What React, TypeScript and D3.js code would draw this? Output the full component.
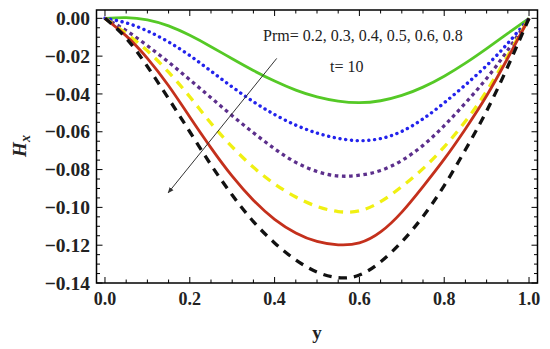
import { useRef, useEffect } from 'react'
import * as d3 from 'd3'

// y positions along the channel (x axis of the plot)
const yPoints = [0, 0.05, 0.1, 0.15, 0.2, 0.25, 0.3, 0.35, 0.4, 0.45, 0.5, 0.55, 0.6, 0.65, 0.7, 0.75, 0.8, 0.85, 0.9, 0.95, 1.0]

// H_x for each Prm value
const hxPrm02 = [0, 0.0004, -0.0008, -0.004, -0.009, -0.015, -0.0214, -0.0276, -0.0332, -0.038, -0.0416, -0.0438, -0.0446, -0.0436, -0.0408, -0.0364, -0.0306, -0.0237, -0.016, -0.008, 0]
const hxPrm03 = [0, -0.0024, -0.0067, -0.0125, -0.0197, -0.0279, -0.0363, -0.0441, -0.0509, -0.0565, -0.0607, -0.0635, -0.0647, -0.0636, -0.0598, -0.0532, -0.0447, -0.0352, -0.025, -0.0132, 0]
const hxPrm04 = [0, -0.0065, -0.0145, -0.0232, -0.0325, -0.042, -0.0515, -0.0605, -0.069, -0.0762, -0.081, -0.0834, -0.083, -0.0805, -0.0752, -0.0672, -0.0568, -0.0448, -0.0318, -0.0168, 0]
const hxPrm05 = [0, -0.008, -0.0172, -0.0285, -0.0415, -0.0555, -0.068, -0.0788, -0.0876, -0.0945, -0.0995, -0.1022, -0.1018, -0.097, -0.089, -0.0795, -0.068, -0.0545, -0.0385, -0.0197, 0]
const hxPrm06 = [0, -0.0093, -0.0212, -0.0357, -0.0522, -0.0685, -0.0835, -0.0962, -0.1063, -0.1135, -0.118, -0.1198, -0.1188, -0.113, -0.1025, -0.089, -0.0745, -0.0585, -0.041, -0.021, 0]
const hxPrm08 = [0, -0.0105, -0.0255, -0.0425, -0.06, -0.0775, -0.0935, -0.1075, -0.1188, -0.1278, -0.1342, -0.1372, -0.1358, -0.1288, -0.1182, -0.1048, -0.0885, -0.0695, -0.049, -0.0255, 0]

const xTickLabels = ['0.0', '0.2', '0.4', '0.6', '0.8', '1.0']
const yTickValues = [0, -0.02, -0.04, -0.06, -0.08, -0.1, -0.12, -0.14]

// arrow runs from (y, Hx) start to end, pointing toward increasing Prm
const arrowStart = [0.405, -0.0212]
const arrowEnd = [0.149, -0.0923]

const series = [
  { values: hxPrm02, color: '#55c926', width: 2.8, dash: null, cap: 'butt' },
  { values: hxPrm03, color: '#2323ec', width: 3.4, dash: '0.1 5.7', cap: 'round' },
  { values: hxPrm04, color: '#5c2f8c', width: 3.3, dash: '3.6 3.6', cap: 'butt' },
  { values: hxPrm05, color: '#f0f012', width: 3.3, dash: '9 7', cap: 'butt' },
  { values: hxPrm06, color: '#c4301c', width: 2.8, dash: null, cap: 'butt' },
  { values: hxPrm08, color: '#111111', width: 3.3, dash: '8.5 7', cap: 'butt' },
]

export default function App() {
  const svgRef = useRef<SVGSVGElement>(null)

  useEffect(() => {
    if (!svgRef.current) return
    const svg = d3.select(svgRef.current)
    svg.selectAll('*').remove()

    const left = 96.5
    const right = 537.5
    const top = 10
    const bottom = 283

    const x = d3.scaleLinear().domain([-0.02, 1.02]).range([left, right])
    const y = d3.scaleLinear().domain([-0.14, 0.0044]).range([bottom, top])

    const serif = '"Liberation Serif", "Times New Roman", serif'

    // curves
    const line = d3
      .line<number>()
      .x((_, i) => x(yPoints[i]))
      .y((d) => y(d))
      .curve(d3.curveNatural)

    series.forEach((s) => {
      svg
        .append('path')
        .datum(s.values)
        .attr('fill', 'none')
        .attr('stroke', s.color)
        .attr('stroke-width', s.width)
        .attr('stroke-linecap', s.cap)
        .attr('stroke-dasharray', s.dash)
        .attr('d', line)
    })

    // frame with inward ticks on all sides
    const frame = svg.append('g').attr('stroke', '#000')
    frame
      .append('rect')
      .attr('x', left)
      .attr('y', top)
      .attr('width', right - left)
      .attr('height', bottom - top)
      .attr('fill', 'none')
      .attr('stroke-width', 1.5)

    const xMinor = d3.range(0, 21).map((i) => i * 0.05)
    xMinor.forEach((v, i) => {
      const len = i % 4 === 0 ? 6 : 3.5
      frame.append('line').attr('x1', x(v)).attr('x2', x(v)).attr('y1', bottom).attr('y2', bottom - len).attr('stroke-width', 1)
      frame.append('line').attr('x1', x(v)).attr('x2', x(v)).attr('y1', top).attr('y2', top + len).attr('stroke-width', 1)
    })
    const yMinor = d3.range(0, 29).map((i) => -i * 0.005)
    yMinor.forEach((v, i) => {
      const len = i % 4 === 0 ? 6 : 3.5
      frame.append('line').attr('x1', left).attr('x2', left + len).attr('y1', y(v)).attr('y2', y(v)).attr('stroke-width', 1)
      frame.append('line').attr('x1', right).attr('x2', right - len).attr('y1', y(v)).attr('y2', y(v)).attr('stroke-width', 1)
    })

    // tick labels
    xTickLabels.forEach((t) => {
      svg
        .append('text')
        .attr('x', x(+t))
        .attr('y', 305)
        .attr('text-anchor', 'middle')
        .attr('font-family', serif)
        .attr('font-weight', 'bold')
        .attr('font-size', '18px')
        .attr('fill', '#222')
        .text(t)
    })
    yTickValues.forEach((v) => {
      svg
        .append('text')
        .attr('x', 90)
        .attr('y', y(v))
        .attr('dy', '0.34em')
        .attr('text-anchor', 'end')
        .attr('font-family', serif)
        .attr('font-weight', 'bold')
        .attr('font-size', '19.5px')
        .attr('fill', '#222')
        .text(v === 0 ? '0.00' : '\u2212' + Math.abs(v).toFixed(2))
    })

    // axis titles
    svg
      .append('text')
      .attr('x', (left + right) / 2)
      .attr('y', 339)
      .attr('text-anchor', 'middle')
      .attr('font-family', serif)
      .attr('font-weight', 'bold')
      .attr('font-size', '19px')
      .attr('fill', '#222')
      .text('y')

    const yTitle = svg
      .append('text')
      .attr('transform', 'translate(26,146) rotate(-90)')
      .attr('text-anchor', 'middle')
      .attr('font-family', serif)
      .attr('font-weight', 'bold')
      .attr('font-style', 'italic')
      .attr('font-size', '19px')
      .attr('fill', '#222')
    yTitle.append('tspan').text('H')
    yTitle.append('tspan').attr('font-size', '14px').attr('dy', 4).text('x')

    // annotations
    svg
      .append('text')
      .attr('x', 263)
      .attr('y', 41)
      .attr('font-family', serif)
      .attr('font-size', '16px')
      .attr('fill', '#222')
      .text('Prm= 0.2, 0.3, 0.4, 0.5, 0.6, 0.8')
    svg
      .append('text')
      .attr('x', 330)
      .attr('y', 72)
      .attr('font-family', serif)
      .attr('font-size', '16px')
      .attr('fill', '#222')
      .text('t= 10')

    svg
      .append('defs')
      .append('marker')
      .attr('id', 'arrowhead')
      .attr('viewBox', '0 0 10 10')
      .attr('refX', 9)
      .attr('refY', 5)
      .attr('markerWidth', 6)
      .attr('markerHeight', 6)
      .attr('orient', 'auto')
      .append('path')
      .attr('d', 'M0,1 L10,5 L0,9 Z')
      .attr('fill', '#333')

    svg
      .append('line')
      .attr('x1', x(arrowStart[0]))
      .attr('y1', y(arrowStart[1]))
      .attr('x2', x(arrowEnd[0]))
      .attr('y2', y(arrowEnd[1]))
      .attr('stroke', '#333')
      .attr('stroke-width', 1)
      .attr('marker-end', 'url(#arrowhead)')
  }, [])

  return (
    <svg
      ref={svgRef}
      width={550}
      height={349}
      style={{ position: 'absolute', left: 0, top: 0, background: '#fff' }}
    />
  )
}
